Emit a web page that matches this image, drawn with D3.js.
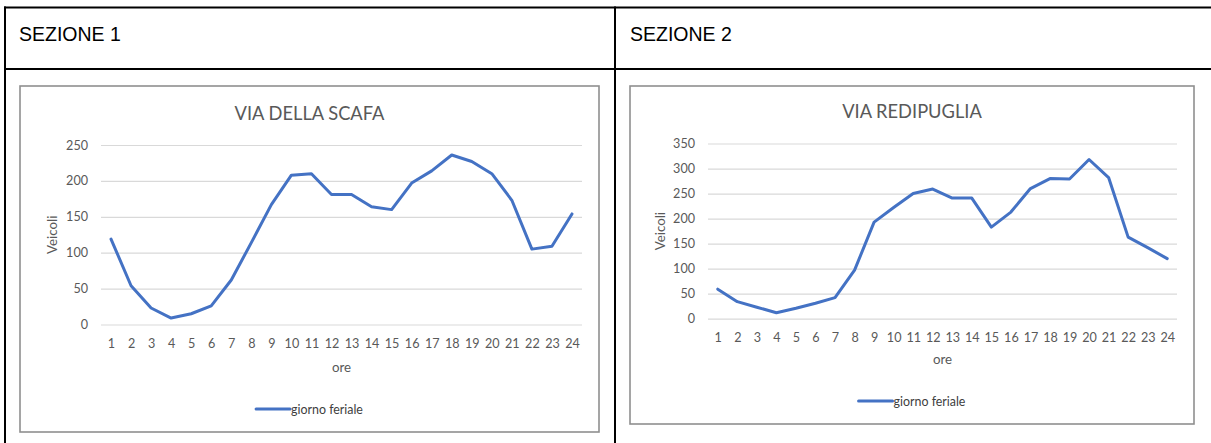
<!DOCTYPE html>
<html lang="it">
<head>
<meta charset="utf-8">
<title>Flussi di traffico orari</title>
<script src="https://cdn.jsdelivr.net/npm/d3@7"></script>
<style>
  html, body { margin: 0; padding: 0; background: #fff; }
  svg { display: block; }
  .sezione { font-family: "Liberation Sans", Arial, sans-serif; font-size: 19.5px; fill: #000; }
  .chart-text { font-family: Lato, "Open Sans", sans-serif; fill: #595959; }
</style>
</head>
<body>
<svg id="chart" width="1211" height="443"></svg>
<script>
// Ore del giorno (etichette asse x)
const hours = ["1","2","3","4","5","6","7","8","9","10","11","12",
               "13","14","15","16","17","18","19","20","21","22","23","24"];

// Veicoli per ora, giorno feriale
const scafaValues = [119, 54, 23, 9, 15, 26, 62, 114, 167, 208, 210, 181,
                     181, 164, 160, 197, 214, 236, 227, 210, 173, 105, 109, 154];
const redipugliaValues = [59, 34, 23, 12, 21, 31, 42, 97, 193, 222, 250, 259,
                          241, 241, 183, 213, 260, 280, 279, 318, 282, 163, 142, 120];

// Tacche dell'asse y
const scafaTicks = [0, 50, 100, 150, 200, 250];
const redipugliaTicks = [0, 50, 100, 150, 200, 250, 300, 350];

const sectionTitles = ["SEZIONE 1", "SEZIONE 2"];
const seriesName = "giorno feriale";
const lineColor = "#4472c4";

const svg = d3.select("#chart");

// Griglia della tabella che contiene i due grafici
const table = svg.append("g").attr("stroke", "#000").attr("stroke-width", 2);
table.append("line").attr("x1", 4).attr("x2", 1211).attr("y1", 7.5).attr("y2", 7.5);
table.append("line").attr("x1", 4).attr("x2", 1211).attr("y1", 69).attr("y2", 69);
table.append("line").attr("x1", 5).attr("x2", 5).attr("y1", 6.5).attr("y2", 443);
table.append("line").attr("x1", 615).attr("x2", 615).attr("y1", 6.5).attr("y2", 443);

svg.append("text").attr("class", "sezione").attr("x", 19).attr("y", 41).text(sectionTitles[0]);
svg.append("text").attr("class", "sezione").attr("x", 630).attr("y", 41).text(sectionTitles[1]);

function drawChart(cfg) {
  const g = svg.append("g");

  // Cornice del grafico
  g.append("rect")
    .attr("x", cfg.box.x).attr("y", cfg.box.y)
    .attr("width", cfg.box.w).attr("height", cfg.box.h)
    .attr("fill", "#fff").attr("stroke", "#8f8f8f").attr("stroke-width", 1.6);

  const x = d3.scalePoint().domain(hours).range([cfg.left, cfg.right]).padding(0.5);
  const y = d3.scaleLinear().domain([0, d3.max(cfg.ticks)]).range([cfg.bottom, cfg.top]);

  // Griglia orizzontale ed etichette asse y
  const yAxis = g.append("g")
    .attr("transform", `translate(${cfg.left},0)`)
    .call(d3.axisLeft(y).tickValues(cfg.ticks).tickSize(-(cfg.right - cfg.left)).tickPadding(13));
  yAxis.select(".domain").remove();
  yAxis.selectAll(".tick line").attr("stroke", "#d9d9d9").attr("stroke-width", 1.2);
  yAxis.selectAll(".tick text")
    .attr("fill", "#595959")
    .style("font-family", "Lato, 'Open Sans', sans-serif")
    .style("font-size", "12.6px");

  // Etichette asse x
  const xAxis = g.append("g")
    .attr("transform", `translate(0,${cfg.bottom})`)
    .call(d3.axisBottom(x).tickSize(0).tickPadding(cfg.xLabelPad));
  xAxis.select(".domain").remove();
  xAxis.selectAll(".tick text")
    .attr("fill", "#595959")
    .style("font-family", "Lato, 'Open Sans', sans-serif")
    .style("font-size", "12.6px");

  // Titolo
  g.append("text").attr("class", "chart-text")
    .attr("x", cfg.box.x + cfg.box.w / 2).attr("y", cfg.titleY)
    .attr("text-anchor", "middle").style("font-size", "18.3px")
    .text(cfg.title);

  // Titoli degli assi
  g.append("text").attr("class", "chart-text")
    .attr("transform", `translate(${cfg.yTitleX},${(cfg.top + cfg.bottom) / 2}) rotate(-90)`)
    .attr("text-anchor", "middle").style("font-size", "13.3px")
    .text("Veicoli");
  g.append("text").attr("class", "chart-text")
    .attr("x", (cfg.left + cfg.right) / 2).attr("y", cfg.xTitleY)
    .attr("text-anchor", "middle").style("font-size", "13.3px")
    .text("ore");

  // Serie
  const line = d3.line()
    .x((d, i) => x(hours[i]))
    .y(d => y(d));
  g.append("path")
    .datum(cfg.values)
    .attr("d", line)
    .attr("fill", "none")
    .attr("stroke", lineColor)
    .attr("stroke-width", 3)
    .attr("stroke-linejoin", "round")
    .attr("stroke-linecap", "round");

  // Legenda
  const legendText = g.append("text").attr("class", "chart-text")
    .attr("y", cfg.legendY + 4.5).style("font-size", "12.4px").style("fill", "#404040")
    .text(seriesName);
  const textW = legendText.node().getComputedTextLength();
  const keyW = 34, gap = 1;
  const startX = cfg.box.x + cfg.box.w / 2 - (keyW + gap + textW) / 2;
  legendText.attr("x", startX + keyW + gap);
  g.append("line")
    .attr("x1", startX).attr("x2", startX + keyW)
    .attr("y1", cfg.legendY).attr("y2", cfg.legendY)
    .attr("stroke", lineColor).attr("stroke-width", 3).attr("stroke-linecap", "round");
}

drawChart({
  title: "VIA DELLA SCAFA",
  values: scafaValues,
  ticks: scafaTicks,
  box: { x: 20, y: 86, w: 579, h: 346 },
  left: 101, right: 582, top: 145, bottom: 324.5,
  titleY: 120, yTitleX: 57, xTitleY: 371.5, xLabelPad: 14.5, legendY: 409
});

drawChart({
  title: "VIA REDIPUGLIA",
  values: redipugliaValues,
  ticks: redipugliaTicks,
  box: { x: 630, y: 86, w: 564, h: 338 },
  left: 708, right: 1177, top: 143.5, bottom: 318.7,
  titleY: 118.3, yTitleX: 665, xTitleY: 364, xLabelPad: 14, legendY: 401
});
</script>
</body>
</html>
